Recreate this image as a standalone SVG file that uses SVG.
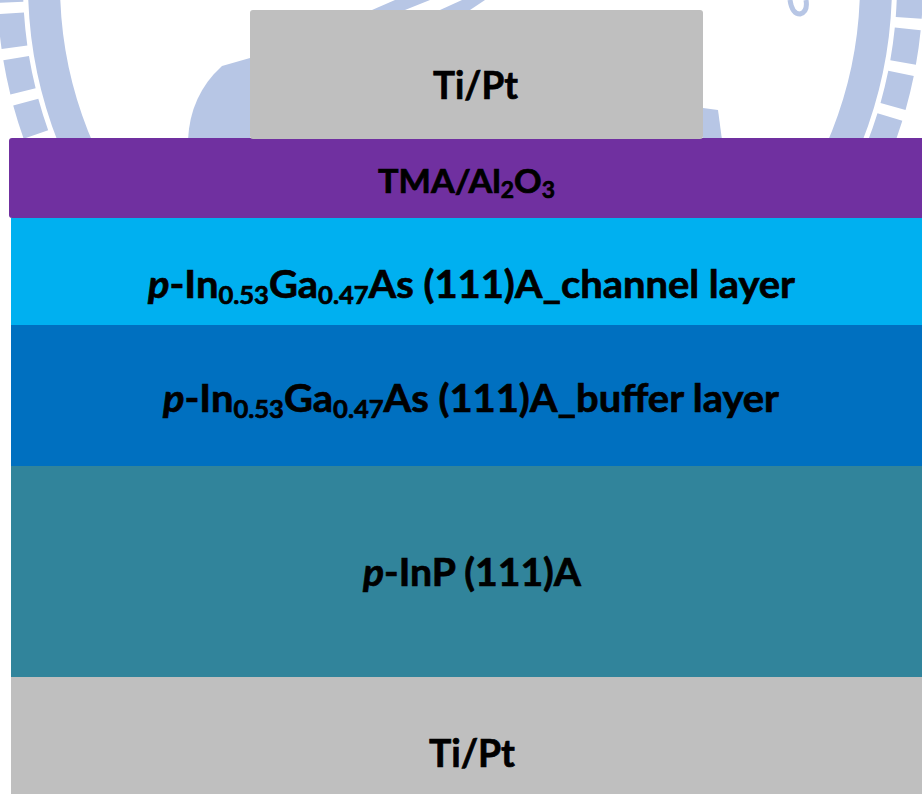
<svg xmlns="http://www.w3.org/2000/svg" width="922" height="794" viewBox="0 0 922 794">
  <style>
    .lbl { font-family: Lato, "Open Sans", "Liberation Sans", sans-serif; font-weight: bold; fill: #000000; stroke: #000000; stroke-width: 0.7px; }
    .sub { font-size: 25px; }
    .wm { fill: none; stroke: #b7c6e5; }
    .wmf { fill: #b7c6e5; }
  </style>
  <rect x="0" y="0" width="922" height="794" fill="#ffffff"/>
  <g id="watermark">
    <circle class="wm" cx="460" cy="-16" r="450" stroke-width="26" stroke-dasharray="34 11"/>
    <circle class="wm" cx="460" cy="-16" r="416" stroke-width="32"/>
    <path class="wmf" d="M188,140 Q190,95 222,66 L250,58 L250,140 Z"/>
    <path class="wmf" d="M703,108 L718,110 L722,140 L703,140 Z"/>
    <path class="wmf" d="M372,10 L395,0 L430,0 L405,10 Z"/>
    <path class="wmf" d="M440,10 L462,0 L485,0 L470,10 Z"/>
    <path class="wm" d="M790,0 Q792,14 800,14 Q808,12 806,0" stroke-width="5"/>
  </g>
  <g id="bottom-contact">
    <rect x="11" y="677" width="920" height="130" fill="#bfbfbf"/>
    <text class="lbl" x="429" y="767" font-size="39" textLength="86" lengthAdjust="spacingAndGlyphs">Ti/Pt</text>
  </g>
  <g id="substrate">
    <rect x="11" y="466" width="920" height="211" fill="#31849b"/>
    <text class="lbl" x="363" y="586" font-size="39" textLength="218" lengthAdjust="spacingAndGlyphs"><tspan font-style="italic">p</tspan>-InP (111)A</text>
  </g>
  <g id="buffer-layer">
    <rect x="11" y="325" width="920" height="141" fill="#0070c0"/>
    <text class="lbl" x="163" y="412" font-size="39" textLength="616" lengthAdjust="spacingAndGlyphs"><tspan font-style="italic">p</tspan>-In<tspan class="sub" dy="6">0.53</tspan><tspan dy="-6">Ga</tspan><tspan class="sub" dy="6">0.47</tspan><tspan dy="-6">As (111)A_buffer layer</tspan></text>
  </g>
  <g id="channel-layer">
    <rect x="11" y="218" width="920" height="107" fill="#00b0f0"/>
    <text class="lbl" x="148" y="298" font-size="39" textLength="647" lengthAdjust="spacingAndGlyphs"><tspan font-style="italic">p</tspan>-In<tspan class="sub" dy="6">0.53</tspan><tspan dy="-6">Ga</tspan><tspan class="sub" dy="6">0.47</tspan><tspan dy="-6">As (111)A_channel layer</tspan></text>
  </g>
  <g id="oxide-layer">
    <rect x="9" y="138" width="930" height="80" rx="3" fill="#7030a0"/>
    <text class="lbl" x="378" y="193" font-size="33" textLength="177" lengthAdjust="spacingAndGlyphs">TMA/Al<tspan font-size="22" dy="5">2</tspan><tspan dy="-5">O</tspan><tspan font-size="22" dy="5">3</tspan></text>
  </g>
  <g id="top-contact">
    <rect x="250" y="10" width="453" height="129" rx="3" fill="#bfbfbf"/>
    <text class="lbl" x="433" y="99" font-size="39" textLength="85" lengthAdjust="spacingAndGlyphs">Ti/Pt</text>
  </g>
  <g id="connectors"/>
</svg>
